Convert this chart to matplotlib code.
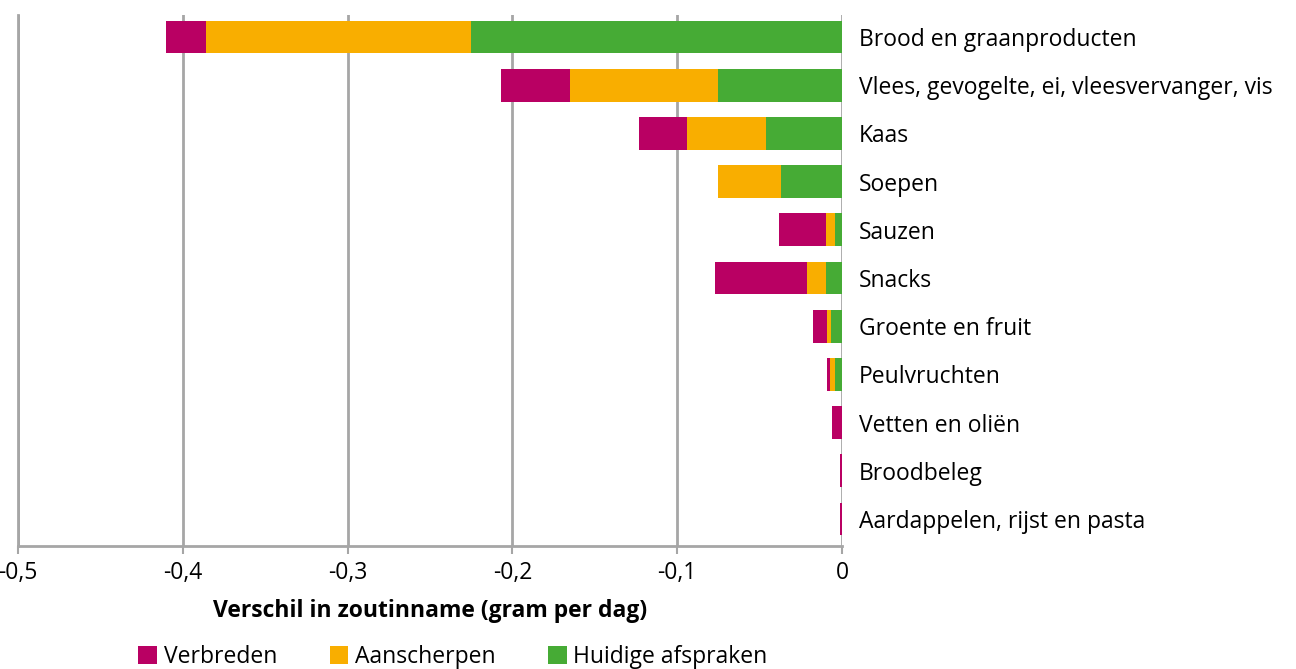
import matplotlib.pyplot as plt
import numpy as np
from matplotlib.ticker import FuncFormatter

# categories top to bottom
Categories = ['Brood en graanproducten', 'Vlees, gevogelte, ei, vleesvervanger, vis', 'Kaas',
              'Soepen', 'Sauzen', 'Snacks', 'Groente en fruit', 'Peulvruchten',
              'Vetten en oliën', 'Broodbeleg', 'Aardappelen, rijst en pasta']
Huidige = [-0.225, -0.075, -0.046, -0.037, -0.004, -0.010, -0.0067, -0.0042, 0.0, 0.0, 0.0]
Aanscherpen = [-0.161, -0.090, -0.048, -0.038, -0.006, -0.011, -0.0022, -0.003, 0.0, 0.0, 0.0]
Verbreden = [-0.024, -0.042, -0.029, 0.0, -0.028, -0.056, -0.0085, -0.0018, -0.006, -0.001, -0.001]

Ticks = [-0.5, -0.4, -0.3, -0.2, -0.1, 0]

plt.rcParams['font.family'] = ['Open Sans', 'DejaVu Sans']
fs = 16.5

fig = plt.figure(figsize=(12.96, 6.69), dpi=100)
ax = fig.add_axes([18/1296, 1-546/669, (842-18)/1296, (546-15)/669])

y = np.arange(len(Categories))
h = np.array(Huidige)
a = np.array(Aanscherpen)
v = np.array(Verbreden)

ax.barh(y, h, height=0.68, color='#46ab35', label='Huidige afspraken', zorder=3)
ax.barh(y, a, left=h, height=0.68, color='#f9ae00', label='Aanscherpen', zorder=3)
ax.barh(y, v, left=h + a, height=0.68, color='#b90063', label='Verbreden', zorder=3)

ax.set_xlim(-0.5, 0)
ax.set_ylim(len(Categories) - 1 + 0.56, -0.456)
ax.set_xticks(Ticks)
ax.xaxis.set_major_formatter(FuncFormatter(lambda x, p: '0' if x == 0 else ('%g' % x).replace('.', ',')))
ax.grid(axis='x', color='#a6a6a6', linewidth=2, zorder=0)

ax.yaxis.tick_right()
ax.set_yticks(y)
ax.set_yticklabels(Categories, fontsize=fs)
ax.tick_params(axis='y', length=0, pad=12)
ax.tick_params(axis='x', labelsize=fs, color='#a6a6a6', width=1.5, length=6, pad=5)

for s in ['top', 'right']:
    ax.spines[s].set_visible(False)
for s in ['left', 'bottom']:
    ax.spines[s].set_color('#a6a6a6')
    ax.spines[s].set_linewidth(2)

ax.set_xlabel('Verschil in zoutinname (gram per dag)', fontsize=fs, fontweight='bold', labelpad=10)

handles, labels = ax.get_legend_handles_labels()
fig.legend(handles[::-1], labels[::-1], loc='center', bbox_to_anchor=(453/1296, 1-657/669),
           ncol=3, frameon=False, fontsize=fs, handlelength=0.8, handleheight=0.8,
           handletextpad=0.3, columnspacing=2.3)

fig.savefig('out.png', dpi=100)
